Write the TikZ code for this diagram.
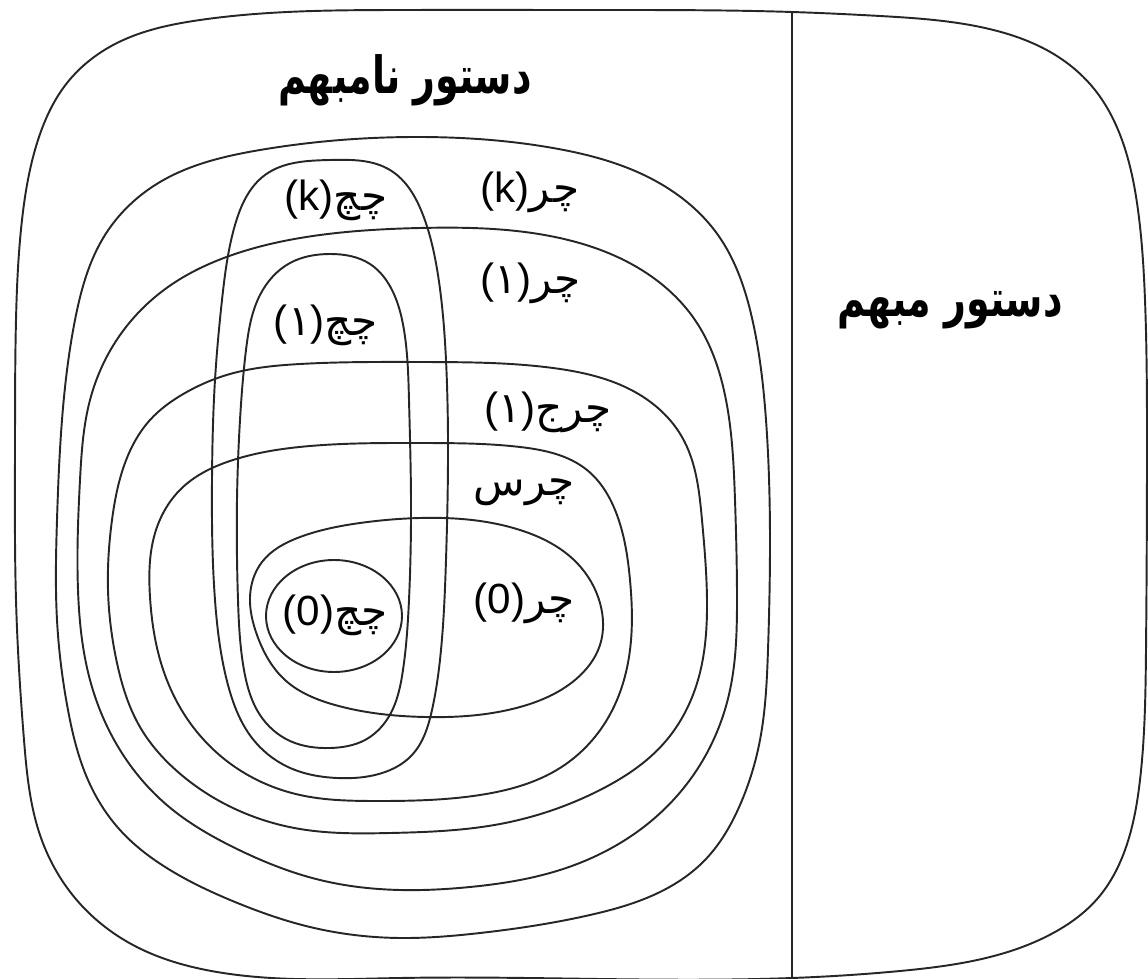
\documentclass[tikz,border=0pt]{standalone}
\usepackage{fontspec}
\usepackage{graphicx}
\setmainfont{Liberation Sans}
\newfontfamily\arabicfont[Script=Arabic]{DejaVu Sans}
\TeXXeTstate=1
\usetikzlibrary{hobby}
\newcommand{\fa}[1]{{\arabicfont\beginR #1\endR}}
\newcommand{\tfa}[1]{\scalebox{1}[1.35]{\arabicfont\bfseries\beginR #1\endR}}
\tikzset{
  setline/.style={draw=black!85, line width=0.55pt},
  setlabel/.style={inner sep=0pt, font=\fontsize{12}{14}\selectfont},
  titlelabel/.style={inner sep=0pt, font=\fontsize{10.8}{13}\selectfont},
}
\begin{document}
\begin{tikzpicture}[x=0.01cm, y=-0.01cm]
  \useasboundingbox (0,0) rectangle (1148,979);
  %% all grammars
  \draw[setline] plot[closed hobby] coordinates {
    (400,10) (200,20) (117,43) (67,83) (38,140) (22,220) (16,320) (15,450)
    (16,600) (24,740) (40,835) (75,898) (133,945) (217,972) (400,978)
    (600,979) (792,978) (900,971) (990,957) (1055,932) (1098,898)
    (1125,850) (1140,780) (1146,650) (1147,450) (1145,300) (1138,210)
    (1122,140) (1095,90) (1060,58) (985,28) (880,16) (792,12) (600,10)};
  \draw[setline] (792,12) -- (792,978);
  %% LR family
  \draw[setline] plot[closed hobby] coordinates {
    (420,137) (553,148) (650,178) (718,235) (752,318) (766,420) (770,540)
    (768,650) (760,740) (740,805) (705,860) (660,892) (590,915) (480,933)
    (400,938) (310,927) (235,902) (170,870) (120,830) (88,780) (68,710)
    (57,620) (57,520) (62,420) (75,320) (105,235) (160,182) (260,150)};
  \draw[setline] plot[closed hobby] coordinates {
    (420,228) (550,236) (635,266) (695,320) (726,400) (735,500) (737,600)
    (730,690) (700,765) (650,822) (560,870) (470,887) (400,890) (320,880)
    (235,848) (168,806) (120,750) (90,680) (78,590) (80,480) (90,400)
    (118,338) (168,287) (235,254) (320,235)};
  \draw[setline] plot[closed hobby] coordinates {
    (420,362) (553,368) (635,392) (682,437) (702,520) (707,600) (698,680)
    (665,742) (600,790) (500,824) (390,833) (300,829) (233,808) (178,772)
    (140,727) (117,663) (108,590) (112,520) (125,463) (150,420) (185,393)
    (230,374) (300,364)};
  \draw[setline] plot[closed hobby] coordinates {
    (420,443) (520,447) (587,470) (617,515) (630,580) (630,650) (608,718)
    (560,768) (480,795) (376,801) (300,795) (235,767) (188,720) (161,663)
    (150,597) (156,530) (183,487) (233,460) (310,446)};
  \draw[setline] plot[closed hobby] coordinates {
    (420,518) (520,530) (577,563) (600,603) (600,645) (575,680) (520,707)
    (425,717) (335,705) (285,680) (257,635) (250,597) (262,562) (300,537)
    (360,523)};
  %% LL family
  \draw[setline] plot[closed hobby] coordinates {
    (330,160) (390,170) (423,215) (438,275) (446,360) (448,460) (446,560)
    (441,650) (432,710) (412,755) (375,775) (337,778) (288,767) (252,738)
    (228,685) (215,600) (212,480) (215,380) (222,300) (235,225) (265,175)};
  \draw[setline] plot[closed hobby] coordinates {
    (330,254) (370,264) (393,292) (404,330) (409,400) (411,500) (409,600)
    (403,670) (388,718) (365,740) (330,748) (290,741) (260,715) (244,670)
    (238,600) (237,500) (240,420) (246,350) (260,295) (290,263)};
  \draw[setline] (334,616) ellipse [x radius=68, y radius=56];
  %% labels
  \node[titlelabel] (unamb) at (405,80) {\tfa{دستور نامبهم}};
  \node[titlelabel] (amb) at (950,310) {\tfa{دستور مبهم}};
  \node[setlabel] (llk) at (336,200) {(k)\fa{چچ}};
  \node[setlabel] (lrk) at (530,192) {(k)\fa{چر}};
  \node[setlabel] (lrone) at (531,283) {(\fa{۱})\fa{چر}};
  \node[setlabel] (llone) at (326,325) {(\fa{۱})\fa{چچ}};
  \node[setlabel] (lalr) at (548,412) {(\fa{۱})\fa{چرج}};
  \node[setlabel] (slr) at (524,492) {\fa{چرس}};
  \node[setlabel] (lrzero) at (524,603) {(0)\fa{چر}};
  \node[setlabel] (llzero) at (335,615) {(0)\fa{چچ}};
\end{tikzpicture}
\end{document}
